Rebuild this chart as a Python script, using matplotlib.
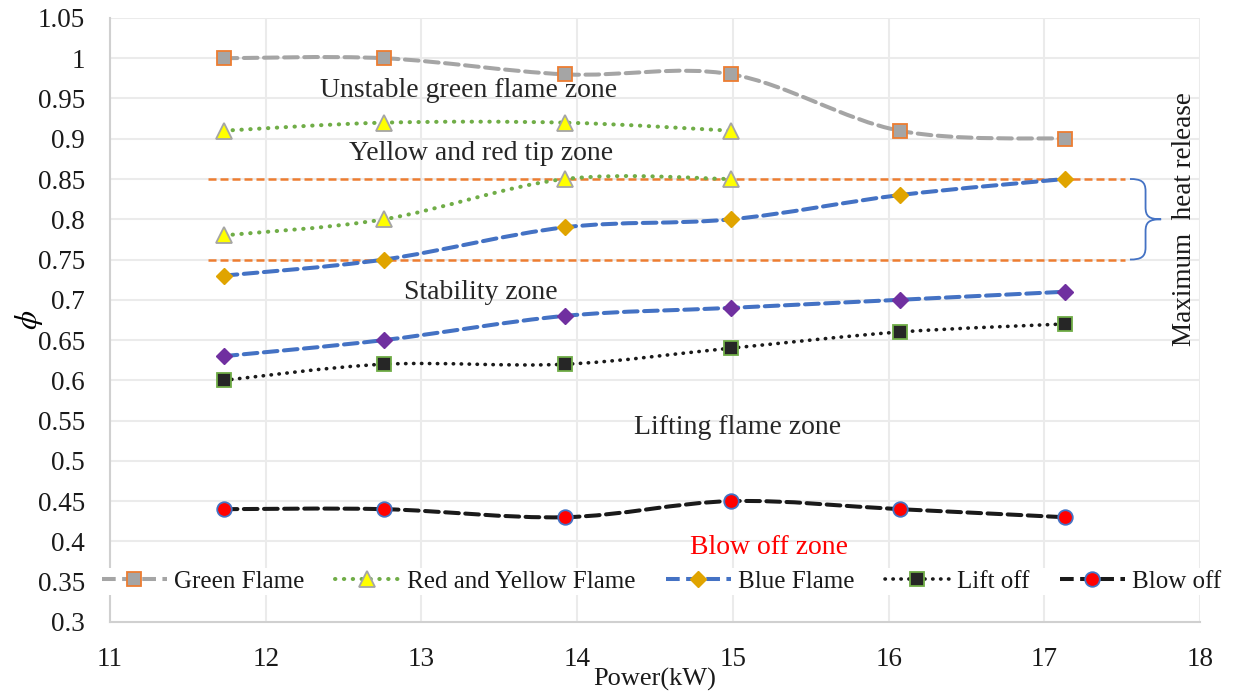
import numpy as np
import matplotlib
matplotlib.use("Agg")
import matplotlib.pyplot as plt
from matplotlib.path import Path
from matplotlib.patches import PathPatch
from matplotlib.lines import Line2D

plt.rcParams['font.family'] = ['Liberation Serif', 'DejaVu Serif']
plt.rcParams['mathtext.fontset'] = 'stix'

power = [11.73, 12.76, 13.92, 14.99, 16.07, 17.13]
green_flame = [1.00, 1.00, 0.98, 0.98, 0.91, 0.90]
ry_upper = [0.91, 0.92, 0.92, 0.91]
ry_lower = [0.78, 0.80, 0.85, 0.85]
blue_upper = [0.73, 0.75, 0.79, 0.80, 0.83, 0.85]
blue_lower = [0.63, 0.65, 0.68, 0.69, 0.70, 0.71]
lift_off = [0.60, 0.62, 0.62, 0.64, 0.66, 0.67]
blow_off = [0.44, 0.44, 0.43, 0.45, 0.44, 0.43]
heat_band = [0.75, 0.85]


def smooth_path(x, y):
    # Excel-like smoothed line: cubic bezier through points
    x = np.asarray(x, float)
    y = np.asarray(y, float)
    verts = [(x[0], y[0])]
    codes = [Path.MOVETO]
    n = len(x)
    for i in range(n - 1):
        x0, y0 = (x[i - 1], y[i - 1]) if i > 0 else (x[i], y[i])
        x3, y3 = (x[i + 2], y[i + 2]) if i + 2 < n else (x[i + 1], y[i + 1])
        c1 = (x[i] + (x[i + 1] - x0) / 6, y[i] + (y[i + 1] - y0) / 6)
        c2 = (x[i + 1] - (x3 - x[i]) / 6, y[i + 1] - (y3 - y[i]) / 6)
        verts += [c1, c2, (x[i + 1], y[i + 1])]
        codes += [Path.CURVE4] * 3
    return Path(verts, codes)


def smooth_line(ax, x, y, color, ls, lw):
    p = PathPatch(smooth_path(x, y), fill=False, edgecolor=color,
                  linestyle=ls, linewidth=lw, capstyle='round', zorder=3)
    ax.add_patch(p)


fig = plt.figure(figsize=(12.35, 6.91), dpi=100)
ax = fig.add_axes([0.0891, 0.1, 0.8826, 0.874])

grid_c = '#ebebeb'
ax.set_xlim(11, 18)
ax.set_ylim(0.3, 1.05)
ax.set_xticks(np.arange(11, 19, 1))
yt = np.round(np.arange(0.3, 1.0501, 0.05), 2)
ax.set_yticks(yt)
ax.set_yticklabels([f"{v:g}" for v in yt])
ax.grid(True, color=grid_c, lw=1.5, zorder=0)
ax.set_axisbelow(True)
for s in ['top', 'right']:
    ax.spines[s].set_visible(False)
for s in ['bottom', 'left']:
    ax.spines[s].set_color('#d0d0d0')
    ax.spines[s].set_linewidth(1.5)
ax.tick_params(length=0, labelsize=19.5, labelcolor='#1a1a1a')
ax.tick_params(axis='x', pad=18)
ax.tick_params(axis='y', pad=18)
for lab in ax.get_xticklabels() + ax.get_yticklabels():
    lab.set_fontfamily('Liberation Serif')

gray = '#a5a5a5'
orange = '#ed7d31'
green = '#70ad47'
blue = '#4472c4'
gold = '#e0a400'
purple = '#7030a0'

# band lines
for v in heat_band:
    ax.plot([11.63, 17.52], [v, v], color=orange, ls=(0, (3.2, 1.6)), lw=1.8, zorder=2)

dash = (0, (3.4, 1.6))
dot = (0, (0.1, 2.1))

smooth_line(ax, power, green_flame, gray, dash, 2.9)
ax.plot(power, green_flame, ls='none', marker='s', ms=10, mfc=gray, mec=orange, mew=1.3, zorder=4)

smooth_line(ax, power[:4], ry_upper, green, dot, 2.9)
smooth_line(ax, power[:4], ry_lower, green, dot, 2.9)
ax.plot(power[:4], ry_upper, ls='none', marker='^', ms=11, mfc='#ffff00', mec=gray, mew=1.3, zorder=4)
ax.plot(power[:4], ry_lower, ls='none', marker='^', ms=11, mfc='#ffff00', mec=gray, mew=1.3, zorder=4)

smooth_line(ax, power, blue_upper, blue, dash, 2.9)
smooth_line(ax, power, blue_lower, blue, dash, 2.9)
ax.plot(power, blue_upper, ls='none', marker='D', ms=8.5, mfc=gold, mec=gold, zorder=4)
ax.plot(power, blue_lower, ls='none', marker='D', ms=8.5, mfc=purple, mec=purple, zorder=4)

smooth_line(ax, power, lift_off, '#1a1a1a', dot, 2.6)
ax.plot(power, lift_off, ls='none', marker='s', ms=10, mfc='#262626', mec=green, mew=1.3, zorder=4)

smooth_line(ax, power, blow_off, '#1a1a1a', dash, 2.9)
ax.plot(power, blow_off, ls='none', marker='o', ms=10.5, mfc='#ff0000', mec=blue, mew=1.3, zorder=4)

# brace
bx, bv, bt = 17.55, 17.65, 17.75
bverts = [(bx, 0.85),
          (bx + 0.07, 0.85), (bv, 0.847), (bv, 0.835),
          (bv, 0.815),
          (bv, 0.804), (bv + 0.02, 0.80), (bt, 0.80),
          (bv + 0.02, 0.80), (bv, 0.796), (bv, 0.785),
          (bv, 0.765),
          (bv, 0.753), (bx + 0.07, 0.75), (bx, 0.75)]
bcodes = ([Path.MOVETO] + [Path.CURVE4] * 3 + [Path.LINETO] + [Path.CURVE4] * 6 +
          [Path.LINETO] + [Path.CURVE4] * 3)
ax.add_patch(PathPatch(Path(bverts, bcodes), fill=False, edgecolor=blue, lw=1.3, zorder=3))
ax.text(17.9, 0.80, 'Maximum  heat release', rotation=90, ha='center', va='center', fontsize=19.5, color='#1a1a1a')

txt_c = '#262626'
ax.text(13.3, 0.96, 'Unstable green flame zone', ha='center', va='center', fontsize=20, color=txt_c)
ax.text(13.38, 0.882, 'Yellow and red tip zone', ha='center', va='center', fontsize=20, color=txt_c)
ax.text(13.38, 0.709, 'Stability zone', ha='center', va='center', fontsize=20, color=txt_c)
ax.text(15.03, 0.541, 'Lifting flame zone', ha='center', va='center', fontsize=20, color=txt_c)
ax.text(15.23, 0.392, 'Blow off zone', ha='center', va='center', fontsize=20, color='#ff0000')

ax.set_xlabel('Power(kW)', fontsize=19, labelpad=-3, color='#1a1a1a')
ax.set_ylabel(r'$\phi$', fontsize=22, labelpad=-5)

handles = [
    Line2D([], [], color=gray, ls=dash, lw=2.9, marker='s', ms=10, mfc=gray, mec=orange, mew=1.3),
    Line2D([], [], color=green, ls=dot, lw=2.9, marker='^', ms=11, mfc='#ffff00', mec=gray, mew=1.3,
           dash_capstyle='round'),
    Line2D([], [], color=blue, ls=dash, lw=2.9, marker='D', ms=8.5, mfc=gold, mec=gold),
    Line2D([], [], color='#1a1a1a', ls=dot, lw=2.6, marker='s', ms=10, mfc='#262626', mec=green, mew=1.3,
           dash_capstyle='round'),
    Line2D([], [], color='#1a1a1a', ls=dash, lw=2.9, marker='o', ms=10.5, mfc='#ff0000', mec=blue, mew=1.3),
]
labels = ['Green Flame', 'Red and Yellow Flame', 'Blue Flame', 'Lift off', 'Blow off']
leg = ax.legend(handles, labels, loc='center', bbox_to_anchor=(0.506, 0.0667), ncol=5,
                frameon=True, fontsize=18, handlelength=2.6, handletextpad=0.3,
                columnspacing=1.2, borderaxespad=0, borderpad=0.1)
leg.get_frame().set_facecolor('white')
leg.get_frame().set_edgecolor('none')
leg.get_frame().set_alpha(1)
for t in leg.get_texts():
    t.set_color('#1a1a1a')

fig.savefig('out.png', dpi=100)
